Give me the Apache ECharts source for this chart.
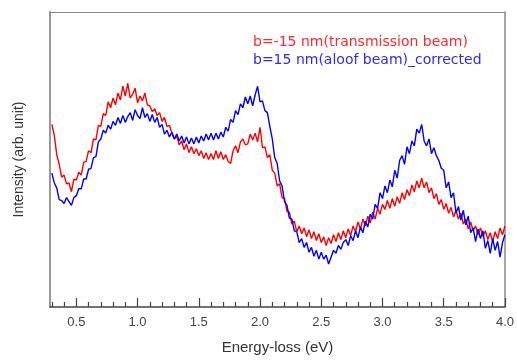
<!DOCTYPE html>
<html><head><meta charset="utf-8">
<script src="https://cdn.jsdelivr.net/npm/echarts@6/dist/echarts.min.js"></script>
<style>html,body{margin:0;padding:0;background:#fff}#c{width:517px;height:360px}</style>
</head><body><div id="c"></div>
<script>
const energy = [
0.30,0.32,0.34,0.36,0.38,0.40,0.42,0.44,0.46,0.48,
0.50,0.52,0.54,0.56,0.58,0.60,0.62,0.64,0.66,0.68,
0.70,0.72,0.74,0.76,0.78,0.80,0.82,0.84,0.86,0.88,
0.90,0.92,0.94,0.96,0.98,1.00,1.02,1.04,1.06,1.08,
1.10,1.12,1.14,1.16,1.18,1.20,1.22,1.24,1.26,1.28,
1.30,1.32,1.34,1.36,1.38,1.40,1.42,1.44,1.46,1.48,
1.50,1.52,1.54,1.56,1.58,1.60,1.62,1.64,1.66,1.68,
1.70,1.72,1.74,1.76,1.78,1.80,1.82,1.84,1.86,1.88,
1.90,1.92,1.94,1.96,1.98,2.00,2.02,2.04,2.06,2.08,
2.10,2.12,2.14,2.16,2.18,2.20,2.22,2.24,2.26,2.28,
2.30,2.32,2.34,2.36,2.38,2.40,2.42,2.44,2.46,2.48,
2.50,2.52,2.54,2.56,2.58,2.60,2.62,2.64,2.66,2.68,
2.70,2.72,2.74,2.76,2.78,2.80,2.82,2.84,2.86,2.88,
2.90,2.92,2.94,2.96,2.98,3.00,3.02,3.04,3.06,3.08,
3.10,3.12,3.14,3.16,3.18,3.20,3.22,3.24,3.26,3.28,
3.30,3.32,3.34,3.36,3.38,3.40,3.42,3.44,3.46,3.48,
3.50,3.52,3.54,3.56,3.58,3.60,3.62,3.64,3.66,3.68,
3.70,3.72,3.74,3.76,3.78,3.80,3.82,3.84,3.86,3.88,
3.90,3.92,3.94,3.96,3.98,4.00];

const transmission = [
187,176,156,146,133,135,126,127,118,131,
130,138,135,148,149,160,158,172,171,186,
185,198,196,210,204,214,207,219,212,226,
216,229,214,218,224,209,216,211,219,207,
206,200,203,196,199,190,194,185,186,178,
172,175,166,170,161,167,158,164,157,162,
155,160,152,158,151,157,151,160,152,159,
151,156,149,147,160,165,158,169,172,166,
167,177,171,178,169,184,163,164,153,156,
140,137,124,126,112,111,98,97,85,88,
77,83,75,81,72,79,70,77,68,75,
66,72,63,71,65,74,67,76,69,78,
71,80,73,83,77,87,80,90,83,93,
86,97,90,101,95,105,100,109,101,111,
103,113,106,117,110,120,114,125,118,129,
122,132,122,128,117,122,111,116,105,110,
100,106,96,102,92,99,90,96,85,90,
80,87,78,83,74,81,72,78,69,76,
67,77,70,81,74,83];

const aloof = [
137,127,122,110,109,106,112,108,104,112,
114,121,121,131,131,141,142,153,154,169,
172,181,178,186,182,190,186,194,188,196,
189,195,199,191,202,196,193,204,194,198,
190,197,189,194,184,187,177,181,174,179,
172,177,170,175,168,174,167,173,167,174,
168,175,170,177,171,178,171,178,172,179,
174,184,180,192,189,201,197,208,204,215,
208,216,206,217,226,210,211,201,199,185,
172,153,147,129,124,108,104,91,90,78,
77,66,70,61,66,56,61,52,58,49,
56,49,53,44,51,58,55,63,59,66,
69,63,73,68,78,71,82,76,88,82,
95,90,105,101,117,111,124,117,130,123,
140,132,150,155,146,164,157,170,165,182,
178,187,170,165,172,157,163,155,150,142,
140,122,128,112,117,96,103,89,99,84,
93,76,81,67,80,70,78,60,68,55,
70,58,67,51,66,74];

const majorTicks = [0.5,1.0,1.5,2.0,2.5,3.0,3.5,4.0];
const minorTicks = [0.3,0.4,0.6,0.7,0.8,0.9,1.1,1.2,1.3,1.4,1.6,1.7,1.8,1.9,2.1,2.2,2.3,2.4,2.6,2.7,2.8,2.9,3.1,3.2,3.3,3.4,3.6,3.7,3.8,3.9];
const seriesNames = ['b=-15 nm(transmission beam)', 'b=15 nm(aloof beam)_corrected'];

const chart = echarts.init(document.getElementById('c'), null, {renderer:'canvas'});
const pair = (arr) => energy.map((e,i)=>[e, arr[i]]);
const frameAxis = {axisTick:{show:false},axisLabel:{show:false},splitLine:{show:false}};
chart.setOption({
  animation:false,
  backgroundColor:'#fff',
  grid:{left:50,right:6,top:12,bottom:46},
  legend:{
    orient:'vertical', left:243, top:30, itemGap:4, icon:'none', itemWidth:0, itemHeight:14,
    selectedMode:false,
    textStyle:{fontFamily:'DejaVu Sans',fontSize:14,padding:0},
    data:[{name:seriesNames[0],textStyle:{color:'#ff2a2a'}},{name:seriesNames[1],textStyle:{color:'#2a2aff'}}]
  },
  xAxis:[{
    type:'value', min:0.285, max:4.0, position:'bottom', offset:0,
    name:'Energy-loss (eV)', nameLocation:'middle', nameGap:33,
    nameTextStyle:{fontFamily:'Liberation Sans',fontSize:15,color:'#333'},
    axisLine:{lineStyle:{color:'#444',width:1.5}},
    axisTick:{inside:true,length:9,customValues:majorTicks,lineStyle:{color:'#444',width:1.2}},
    axisLabel:{customValues:majorTicks,formatter:(v)=>v.toFixed(1),fontFamily:'Liberation Sans',fontSize:13,color:'#444',margin:9},
    splitLine:{show:false}
  },{
    type:'value', min:0.285, max:4.0, position:'bottom', offset:0,
    axisLine:{show:false},
    axisTick:{inside:true,length:5,customValues:minorTicks,lineStyle:{color:'#444',width:1.2}},
    axisLabel:{show:false}, splitLine:{show:false}
  },Object.assign({
    type:'value', min:0.285, max:4.0, position:'top', offset:0,
    axisLine:{show:true,lineStyle:{color:'#8a8a8a',width:1}}
  }, frameAxis)],
  yAxis:[{
    type:'value', min:0, max:302,
    name:'Intensity (arb. unit)', nameLocation:'middle', nameGap:24,
    nameTextStyle:{fontFamily:'Liberation Sans',fontSize:14,color:'#333'},
    axisLine:{show:true,lineStyle:{color:'#999',width:2}},
    axisTick:{show:false}, axisLabel:{show:false}, splitLine:{show:false}
  },Object.assign({
    type:'value', min:0, max:302, position:'right', offset:0,
    axisLine:{show:true,lineStyle:{color:'#8a8a8a',width:1.5}}
  }, frameAxis)],
  series:[
    {name:seriesNames[0],type:'line',data:pair(transmission),showSymbol:false,lineStyle:{color:'#ff0000',width:1.4},itemStyle:{color:'#ff0000'}},
    {name:seriesNames[1],type:'line',data:pair(aloof),showSymbol:false,lineStyle:{color:'#0000ff',width:1.4},itemStyle:{color:'#0000ff'}}
  ]
});
</script></body></html>
